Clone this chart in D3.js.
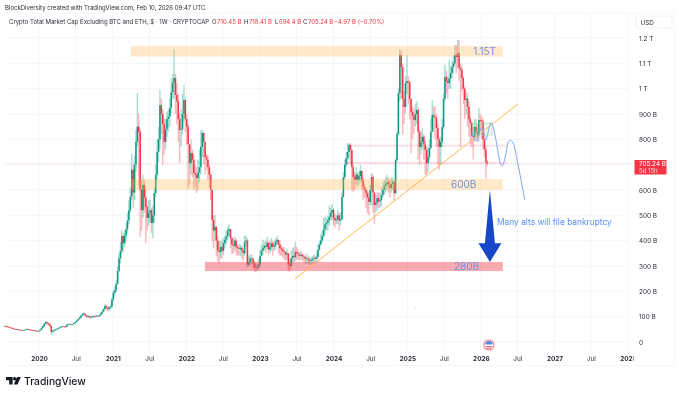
<!DOCTYPE html>
<html>
<head>
<meta charset="utf-8">
<script src="https://cdn.jsdelivr.net/npm/d3@7"></script>
<style>
  html, body { margin: 0; padding: 0; background: #fff; }
  svg { display: block; font-family: Inter, 'Noto Sans', sans-serif; filter: blur(.25px); }
</style>
</head>
<body>
<div id="chart"></div>
<script>
// weekly candles in billions of USD, first one is the week of 2019-07-15
const firstWeek = new Date(2019, 6, 15)
const closes = [
  63, 62, 60, 58, 56, 55, 52, 50, 51, 49,
  47, 48, 46, 45, 48, 50, 51, 49, 48, 47,
  46, 45, 44, 43, 44, 48, 55, 63, 72, 79,
  75, 70, 63, 40, 44, 47, 50, 52, 55, 58,
  60, 62, 61, 60, 68, 70, 70, 69, 71, 74,
  79, 84, 90, 96, 104, 110, 112, 105, 100, 103,
  98, 99, 102, 100, 103, 104, 102, 106, 112, 120,
  130, 142, 136, 130, 135, 140, 168, 195, 205, 230,
  280, 330, 360, 418, 390, 420, 445, 480, 520, 573,
  680, 590, 700, 790, 850, 830, 600, 520, 620, 570,
  533, 490, 510, 520, 470, 500, 588, 660, 750, 800,
  935, 900, 860, 790, 840, 880, 890, 924, 985, 1022,
  1042, 975, 950, 880, 837, 840, 900, 955, 880, 850,
  780, 706, 746, 720, 667, 660, 647, 670, 690, 770,
  825, 790, 730, 720, 690, 660, 600, 481, 440, 454,
  400, 360, 355, 375, 360, 390, 405, 418, 440, 446,
  410, 385, 380, 400, 375, 370, 367, 372, 360, 350,
  395, 400, 305, 315, 330, 328, 310, 295, 292, 295,
  305, 340, 360, 372, 380, 375, 392, 365, 375, 390,
  375, 380, 395, 403, 385, 370, 365, 358, 355, 345,
  350, 305, 300, 330, 340, 335, 355, 350, 345, 340,
  345, 338, 335, 328, 330, 325, 320, 322, 328, 332,
  328, 335, 365, 385, 400, 418, 445, 465, 470, 480,
  494, 510, 521, 490, 480, 482, 500, 480, 485, 573,
  650, 700, 726, 750, 778, 758, 690, 651, 640, 660,
  640, 655, 675, 640, 612, 600, 588, 570, 553, 600,
  651, 590, 541, 550, 568, 555, 560, 580, 600, 615,
  625, 632, 620, 608, 625, 632, 588, 718, 820, 983,
  1133, 1085, 960, 928, 1022, 1030, 1026, 960, 908, 890,
  876, 900, 916, 830, 770, 790, 810, 780, 758, 706,
  730, 766, 830, 896, 890, 885, 845, 800, 770, 790,
  849, 960, 1046, 1030, 1022, 1040, 1062, 1085, 1100, 1133,
  1125, 1140, 1082, 1074, 1042, 1000, 955, 960, 928, 880,
  865, 815, 810, 849, 830, 815, 876, 875, 870, 800,
  760, 710.45, 705.24
]
const highs = [
  65, 64, 63, 61, 58, 57, 56, 53, 53, 52,
  50, 49, 49, 47, 50, 52, 53, 52, 50, 49,
  48, 47, 46, 45, 46, 50, 57, 65, 74, 83,
  80, 76, 72, 64, 47, 50, 52, 55, 57, 60,
  63, 64, 64, 63, 70, 73, 73, 72, 73, 76,
  81, 87, 93, 100, 108, 116, 118, 114, 108, 106,
  104, 102, 105, 104, 106, 107, 106, 109, 116, 124,
  135, 150, 148, 140, 142, 148, 175, 205, 220, 245,
  300, 350, 395, 440, 430, 440, 470, 510, 560, 610,
  745, 700, 735, 840, 983, 900, 840, 640, 660, 640,
  600, 540, 560, 560, 530, 540, 610, 700, 800, 850,
  995, 960, 920, 880, 880, 910, 920, 960, 1040, 1060,
  1157, 1060, 1022, 980, 900, 920, 980, 1015, 960, 900,
  860, 780, 800, 760, 740, 700, 690, 720, 760, 837,
  837, 830, 770, 740, 740, 700, 670, 600, 500, 500,
  460, 420, 400, 400, 400, 410, 420, 440, 455, 465,
  446, 415, 410, 415, 410, 385, 385, 385, 380, 370,
  420, 420, 410, 340, 345, 345, 335, 320, 310, 310,
  330, 365, 385, 405, 395, 400, 415, 395, 400, 410,
  400, 400, 410, 420, 405, 400, 385, 375, 375, 360,
  365, 350, 330, 360, 370, 375, 395, 375, 365, 355,
  360, 350, 345, 340, 350, 340, 335, 335, 340, 345,
  340, 355, 385, 400, 425, 440, 490, 495, 490, 500,
  540, 530, 545, 530, 505, 500, 520, 510, 510, 590,
  670, 720, 750, 785, 785, 785, 760, 700, 670, 690,
  670, 670, 700, 680, 650, 625, 610, 600, 590, 620,
  667, 660, 590, 580, 590, 590, 590, 610, 630, 640,
  650, 660, 650, 640, 650, 650, 640, 725, 830, 1000,
  1157, 1150, 1100, 990, 1050, 1133, 1050, 1030, 960, 930,
  920, 940, 950, 925, 840, 830, 845, 820, 795, 770,
  770, 800, 880, 955, 930, 930, 900, 860, 810, 810,
  880, 980, 1094, 1070, 1050, 1113, 1090, 1110, 1130, 1172,
  1172, 1192, 1192, 1100, 1090, 1050, 1010, 990, 980, 950,
  890, 870, 850, 880, 880, 860, 924, 900, 890, 880,
  805, 775, 718.41
]
const lows = [
  60, 59, 57, 55, 53, 51, 49, 48, 47, 46,
  45, 45, 44, 43, 44, 47, 48, 46, 45, 45,
  44, 43, 42, 41, 42, 43, 47, 53, 60, 68,
  68, 64, 58, 30, 36, 40, 45, 48, 50, 53,
  56, 58, 58, 56, 58, 66, 66, 66, 66, 70,
  72, 78, 84, 89, 94, 102, 104, 98, 92, 96,
  92, 92, 94, 94, 96, 98, 97, 98, 102, 108,
  118, 125, 125, 120, 122, 128, 135, 160, 180, 195,
  225, 275, 310, 345, 355, 375, 400, 430, 465, 510,
  560, 530, 560, 670, 770, 620, 415, 440, 490, 510,
  390, 440, 460, 470, 430, 410, 470, 570, 640, 710,
  760, 820, 700, 740, 760, 810, 830, 850, 900, 960,
  960, 900, 860, 790, 707, 770, 820, 870, 830, 780,
  604, 620, 660, 650, 600, 610, 588, 600, 630, 660,
  730, 700, 660, 680, 640, 610, 560, 398, 370, 400,
  340, 320, 310, 330, 330, 345, 370, 385, 400, 415,
  370, 345, 350, 360, 345, 340, 340, 340, 330, 320,
  340, 375, 295, 295, 305, 305, 290, 278, 275, 280,
  285, 300, 340, 345, 360, 350, 365, 345, 350, 360,
  340, 360, 365, 385, 350, 340, 340, 335, 325, 320,
  325, 280, 278, 290, 315, 315, 320, 325, 325, 320,
  325, 320, 315, 310, 310, 308, 305, 305, 310, 315,
  310, 315, 330, 360, 380, 395, 410, 425, 440, 440,
  460, 480, 480, 460, 450, 465, 465, 440, 460, 480,
  570, 640, 690, 700, 720, 700, 600, 592, 600, 620,
  610, 620, 630, 600, 560, 570, 530, 510, 500, 540,
  540, 510, 466, 510, 520, 530, 530, 535, 570, 580,
  590, 600, 590, 570, 590, 600, 560, 580, 710, 815,
  950, 960, 820, 860, 900, 980, 940, 880, 746, 800,
  820, 850, 860, 720, 700, 740, 760, 720, 659, 660,
  670, 720, 760, 840, 830, 800, 770, 700, 680, 700,
  770, 840, 950, 980, 960, 1000, 1000, 1040, 1060, 1090,
  1060, 1080, 1030, 770, 990, 940, 880, 900, 850, 810,
  780, 770, 720, 790, 800, 790, 790, 830, 800, 760,
  730, 644, 694.4
]

const yTicks = [0, 100, 200, 300, 400, 500, 600, 800, 900, 1000, 1100, 1200]
const yGrid = [0, 100, 200, 300, 400, 500, 600, 700, 800, 900, 1000, 1100, 1200]
const yearTicks = [2020, 2021, 2022, 2023, 2024, 2025, 2026, 2027, 2028]
const lastPrice = 705.24

// drawings on the chart: dates on x, billions on y
const zones = [
  { from: new Date(2021, 3, 1), to: new Date(2026, 3, 20), low: 1127, high: 1168, fill: '#ffb74d', opacity: 0.3, label: '1.15T', labelDate: new Date(2026, 0, 20) },
  { from: new Date(2021, 3, 1), to: new Date(2026, 3, 20), low: 600, high: 643, fill: '#ffb74d', opacity: 0.3, label: '600B', labelDate: new Date(2025, 9, 8) },
  { from: new Date(2022, 3, 3), to: new Date(2026, 3, 20), low: 280, high: 316, fill: '#f23645', opacity: 0.42, label: '280B', labelDate: new Date(2025, 9, 22) }
]
const paleLines = [
  { from: new Date(2024, 3, 1), to: new Date(2026, 4, 15), value: 775 },
  { from: new Date(2024, 2, 1), to: new Date(2026, 4, 15), value: 707 }
]
const trendDates = [new Date(2023, 5, 24), new Date(2026, 6, 5)]
const trendValues = [249, 940]
const rangeDates = [new Date(2025, 10, 22), new Date(2026, 1, 26)]
const rangeValues = [817, 864]
const forecastDates = [
  new Date(2025, 10, 18), new Date(2025, 10, 28), new Date(2025, 11, 13), new Date(2025, 11, 23),
  new Date(2026, 0, 7), new Date(2026, 0, 17), new Date(2026, 0, 27), new Date(2026, 1, 6),
  new Date(2026, 1, 21), new Date(2026, 2, 3), new Date(2026, 2, 23), new Date(2026, 3, 7),
  new Date(2026, 3, 17), new Date(2026, 4, 2), new Date(2026, 4, 16), new Date(2026, 4, 26),
  new Date(2026, 5, 10), new Date(2026, 5, 30), new Date(2026, 6, 19), new Date(2026, 7, 7)
]
const forecastValues = [
  829, 801, 797, 825, 845, 825, 797, 829, 866, 849, 770, 707, 695, 730, 786, 797, 786, 718, 640, 561
]

const width = 679
const height = 396
const red = '#f23645'
const teal = '#089981'
const annotationBlue = '#6c91e6'

const x = d3.scaleTime()
  .domain([new Date(2020, 0, 1), new Date(2028, 0, 1)])
  .range([39, 628])
const y = d3.scaleLinear()
  .domain([0, 1200])
  .range([342, 38])

const candles = closes.map((close, i) => ({
  date: d3.timeWeek.offset(firstWeek, i),
  open: i === 0 ? close : closes[i - 1],
  close,
  high: highs[i],
  low: lows[i]
}))
const candleColor = d => (d.close >= d.open ? teal : red)

const svg = d3.select('#chart')
  .append('svg')
  .attr('width', width)
  .attr('height', height)

const defs = svg.append('defs')

const addFrame = () => {
  svg.append('path')
    .attr('d', 'M5 13H674V365.5H5')
    .attr('fill', 'none')
    .attr('stroke', '#f5f6f7')
  svg.append('g')
    .selectAll('line')
    .data(yGrid)
    .enter()
    .append('line')
    .attr('x1', 5)
    .attr('x2', 628)
    .attr('y1', d => y(d))
    .attr('y2', d => y(d))
    .attr('stroke', '#f4f5f7')
}

const addAxes = () => {
  const xTicks = []
  yearTicks.forEach((year) => {
    xTicks.push(new Date(year, 0, 1))
    if (year < 2028) xTicks.push(new Date(year, 6, 1))
  })

  svg.append('g')
    .selectAll('line')
    .data(xTicks)
    .enter()
    .append('line')
    .attr('x1', d => x(d))
    .attr('x2', d => x(d))
    .attr('y1', 13)
    .attr('y2', 351)
    .attr('stroke', '#f4f5f7')

  const xAxis = svg.append('g')
    .attr('transform', 'translate(0, 351)')
    .call(d3.axisBottom(x)
      .tickValues(xTicks)
      .tickSize(0)
      .tickPadding(5)
      .tickFormat(d => (d.getMonth() === 0 ? d.getFullYear() : 'Jul')))
  xAxis.select('.domain').remove()
  xAxis.selectAll('text')
    .attr('font-family', 'Inter, sans-serif')
    .attr('font-size', 6.4)
    .attr('font-weight', d => (d.getMonth() === 0 ? 700 : 400))
    .attr('fill', '#2a2e39')

  // the 2028 label is cut off by the price scale
  defs.append('clipPath')
    .attr('id', 'cutYear')
    .append('rect')
    .attr('x', -12)
    .attr('y', -10)
    .attr('width', 17)
    .attr('height', 30)
  xAxis.selectAll('.tick')
    .filter(d => d.getFullYear() === 2028)
    .select('text')
    .attr('clip-path', 'url(#cutYear)')

  const yAxis = svg.append('g')
    .attr('transform', 'translate(634, 0)')
    .call(d3.axisRight(y)
      .tickValues(yTicks)
      .tickSize(0)
      .tickPadding(5)
      .tickFormat(d => (d >= 1000 ? `${d3.format('.2~f')(d / 1000)} T` : d === 0 ? '0' : `${d} B`)))
  yAxis.select('.domain').remove()
  yAxis.selectAll('text')
    .attr('font-family', 'Inter, sans-serif')
    .attr('font-size', 6.4)
    .attr('fill', '#2a2e39')
}

const addCandles = () => {
  const g = svg.append('g')
  g.selectAll('.wick')
    .data(candles)
    .enter()
    .append('line')
    .attr('class', 'wick')
    .attr('x1', d => x(d.date))
    .attr('x2', d => x(d.date))
    .attr('y1', d => y(d.high))
    .attr('y2', d => y(d.low))
    .attr('stroke', candleColor)
    .attr('stroke-width', 1.35)
    .attr('stroke-opacity', 0.36)
  g.selectAll('.body')
    .data(candles)
    .enter()
    .append('rect')
    .attr('class', 'body')
    .attr('x', d => x(d.date) - 0.75)
    .attr('width', 1.5)
    .attr('y', d => y(Math.max(d.open, d.close)))
    .attr('height', d => Math.max(0.7, Math.abs(y(d.open) - y(d.close))))
    .attr('fill', candleColor)
}

const addDrawings = () => {
  svg.append('line')
    .attr('x1', 5)
    .attr('x2', 634)
    .attr('y1', y(lastPrice))
    .attr('y2', y(lastPrice))
    .attr('stroke', red)
    .attr('stroke-opacity', 0.3)
    .attr('stroke-width', 0.7)
    .attr('stroke-dasharray', '1 1')

  svg.append('g')
    .selectAll('line')
    .data(paleLines)
    .enter()
    .append('line')
    .attr('x1', d => x(d.from))
    .attr('x2', d => x(d.to))
    .attr('y1', d => y(d.value))
    .attr('y2', d => y(d.value))
    .attr('stroke', red)
    .attr('stroke-opacity', 0.16)
    .attr('stroke-width', 1.8)

  svg.append('g')
    .selectAll('rect')
    .data(zones)
    .enter()
    .append('rect')
    .attr('x', d => x(d.from))
    .attr('width', d => x(d.to) - x(d.from))
    .attr('y', d => y(d.high))
    .attr('height', d => y(d.low) - y(d.high))
    .attr('fill', d => d.fill)
    .attr('fill-opacity', d => d.opacity)

  svg.append('g')
    .selectAll('text')
    .data(zones)
    .enter()
    .append('text')
    .attr('x', d => x(d.labelDate))
    .attr('y', d => y((d.low + d.high) / 2))
    .attr('dy', '.36em')
    .attr('text-anchor', 'middle')
    .attr('font-size', 10)
    .attr('fill', annotationBlue)
    .text(d => d.label)

  svg.append('line')
    .attr('x1', x(trendDates[0]))
    .attr('x2', x(trendDates[1]))
    .attr('y1', y(trendValues[0]))
    .attr('y2', y(trendValues[1]))
    .attr('stroke', '#ffb74d')
    .attr('stroke-width', 1)

  // small box around the last range
  svg.append('rect')
    .attr('x', x(rangeDates[0]))
    .attr('width', x(rangeDates[1]) - x(rangeDates[0]))
    .attr('y', y(rangeValues[1]))
    .attr('height', y(rangeValues[0]) - y(rangeValues[1]))
    .attr('fill', '#a5d6a7')
    .attr('fill-opacity', 0.22)
    .attr('stroke', '#a5d6a7')
    .attr('stroke-width', 0.6)

  const forecast = d3.line()
    .x((_, i) => x(forecastDates[i]))
    .y(d => y(d))
    .curve(d3.curveCatmullRom)
  svg.append('path')
    .attr('d', forecast(forecastValues))
    .attr('fill', 'none')
    .attr('stroke', '#7ea6f4')
    .attr('stroke-width', 1)

  // big arrow down to the 280B zone
  const ax = x(new Date(2026, 1, 15))
  const arrowTop = y(600)
  const arrowNeck = y(390)
  const arrowTip = y(316)
  svg.append('path')
    .attr('d', `M${ax} ${arrowTop}L${ax + 5} ${arrowNeck}L${ax + 11.5} ${arrowNeck}L${ax} ${arrowTip}L${ax - 11.5} ${arrowNeck}L${ax - 5} ${arrowNeck}Z`)
    .attr('fill', '#1547c8')

  svg.append('text')
    .attr('x', 497)
    .attr('y', 225)
    .attr('font-size', 8.4)
    .attr('fill', '#5b8ff9')
    .text('Many alts will file bankruptcy')

  svg.append('rect')
    .attr('x', x(new Date(2025, 1, 8)))
    .attr('y', y(138))
    .attr('width', 1.5)
    .attr('height', 0.7)
    .attr('fill', '#ffb74d')
}

const addEventFlag = () => {
  const flag = svg.append('g')
    .attr('transform', `translate(${x(new Date(2026, 1, 10))}, 345)`)
  flag.append('circle').attr('r', 5).attr('fill', '#fff').attr('stroke', '#f7727d').attr('stroke-width', 1.1)
  flag.append('path').attr('d', 'M-3.6 -.4A3.6 3.6 0 0 1 3.6 -.4Z').attr('fill', '#3f8fe0')
  flag.append('rect').attr('x', -3.2).attr('y', 1.2).attr('width', 6.4).attr('height', 0.9).attr('fill', '#f23645')
  flag.append('rect').attr('x', -2.2).attr('y', 2.9).attr('width', 4.4).attr('height', 0.7).attr('fill', '#f23645')
}

const addHeader = () => {
  svg.append('text')
    .attr('x', 5)
    .attr('y', 10.3)
    .attr('font-size', 6)
    .attr('fill', '#2a2e39')
    .text('BlockDiversity created with TradingView.com, Feb 10, 2026 09:47 UTC')

  svg.append('text')
    .attr('x', 9)
    .attr('y', 23.5)
    .attr('font-size', 6)
    .attr('fill', '#2a2e39')
    .text('Crypto Total Market Cap Excluding BTC and ETH, $ · 1W · CRYPTOCAP')

  const ohlc = [
    ['O', '710.45 B', 212], ['H', '718.41 B', 244], ['L', '694.4 B', 275], ['C', '705.24 B', 303]
  ]
  const items = svg.append('g').attr('font-size', 6)
  ohlc.forEach(([key, value, left]) => {
    const label = items.append('text').attr('x', left).attr('y', 23.5)
    label.append('tspan').attr('fill', '#2a2e39').text(key)
    label.append('tspan').attr('fill', red).attr('dx', 0.5).text(value)
  })
  items.append('text')
    .attr('x', 334)
    .attr('y', 23.5)
    .attr('fill', red)
    .text('−4.97 B (−0.70%)')

  svg.append('rect')
    .attr('x', 636)
    .attr('y', 16)
    .attr('width', 36)
    .attr('height', 12)
    .attr('rx', 2)
    .attr('fill', '#fff')
    .attr('stroke', '#f0f1f3')
  svg.append('text')
    .attr('x', 640.5)
    .attr('y', 24.5)
    .attr('font-size', 6.4)
    .attr('fill', '#2a2e39')
    .text('USD')
}

const addPriceTag = () => {
  svg.append('rect')
    .attr('x', 634.5)
    .attr('y', 160)
    .attr('width', 32)
    .attr('height', 14.5)
    .attr('fill', red)
  svg.append('text')
    .attr('x', 639)
    .attr('y', 166)
    .attr('font-size', 6.4)
    .attr('fill', '#fff')
    .text('705.24 B')
  svg.append('text')
    .attr('x', 639)
    .attr('y', 173)
    .attr('font-size', 6)
    .attr('fill', '#ffd5d8')
    .text('5d 15h')
}

const addLogo = () => {
  svg.append('path')
    .attr('d', 'M6 377H12.6V384.6H9.2V380.2H6ZM20.8 377L17.5 384.6H13.8L17 377Z')
    .attr('fill', '#131722')
  svg.append('circle')
    .attr('cx', 14.6)
    .attr('cy', 378.8)
    .attr('r', 1.7)
    .attr('fill', '#131722')
  svg.append('text')
    .attr('x', 24)
    .attr('y', 385)
    .attr('font-size', 10.3)
    .attr('font-weight', 500)
    .attr('fill', '#131722')
    .text('TradingView')
}

addFrame()
addAxes()
addCandles()
addDrawings()
addEventFlag()
addHeader()
addPriceTag()
addLogo()
</script>
</body>
</html>
